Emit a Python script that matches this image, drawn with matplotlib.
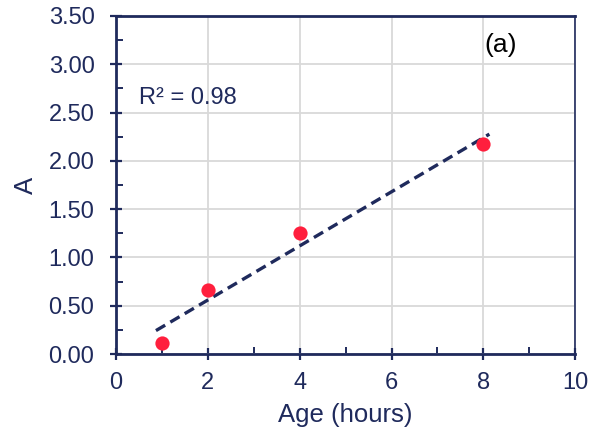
import numpy as np
import matplotlib
matplotlib.use("Agg")
import matplotlib.pyplot as plt
from matplotlib.ticker import MultipleLocator, FormatStrFormatter

# data
age_hours = [1, 2, 4, 8]
absorbance = [0.12, 0.66, 1.25, 2.17]
r2_label = "R² = 0.98"
panel_label = "(a)"

NAVY = "#1f2a5c"
RED = "#ff1f3d"
GRID = "#d9d9d9"

plt.rcParams["font.family"] = ["Liberation Sans", "DejaVu Sans"]

fig = plt.figure(figsize=(5.98, 4.41), dpi=100)
ax = fig.add_axes([0.194, 0.197, 0.768, 0.767])

# linear trendline, extended slightly beyond the data like Excel
slope, intercept = np.polyfit(age_hours, absorbance, 1)
xt = np.array([min(age_hours) - 0.13, max(age_hours) + 0.13])
ax.plot(xt, slope * xt + intercept, ls=(0, (3.2, 1.8)), lw=2.4, color=NAVY, zorder=3)
ax.scatter(age_hours, absorbance, s=105, color=RED, zorder=4, linewidths=0)

ax.set_xlim(0, 10)
ax.set_ylim(0, 3.5)
ax.xaxis.set_major_locator(MultipleLocator(2))
ax.xaxis.set_minor_locator(MultipleLocator(1))
ax.yaxis.set_major_locator(MultipleLocator(0.5))
ax.yaxis.set_minor_locator(MultipleLocator(0.25))
ax.yaxis.set_major_formatter(FormatStrFormatter("%.2f"))
ax.grid(True, which="major", color=GRID, lw=1.3, zorder=0)
ax.set_axisbelow(True)

ax.tick_params(which="major", direction="inout", length=9, width=1.6, color=NAVY,
               labelsize=17, labelcolor=NAVY)
ax.tick_params(axis="x", which="major", pad=8.5)
ax.tick_params(axis="y", which="major", pad=11)
ax.tick_params(which="minor", direction="in", length=5, width=1.4, color=NAVY)
for side in ["left", "bottom", "top"]:
    ax.spines[side].set_color(NAVY)
    ax.spines[side].set_linewidth(2.0)
ax.spines["right"].set_color(NAVY)
ax.spines["right"].set_linewidth(1.2)

ax.set_xlabel("Age (hours)", fontsize=18.5, color=NAVY, labelpad=6)
ax.set_ylabel("A", fontsize=18.5, color=NAVY, labelpad=8)

ax.text(0.5, 2.65, r2_label, fontsize=17, color=NAVY, va="center", ha="left")
ax.text(8.37, 3.2, panel_label, fontsize=19, color="black", va="center", ha="center")

fig.savefig("out.png", dpi=100)
